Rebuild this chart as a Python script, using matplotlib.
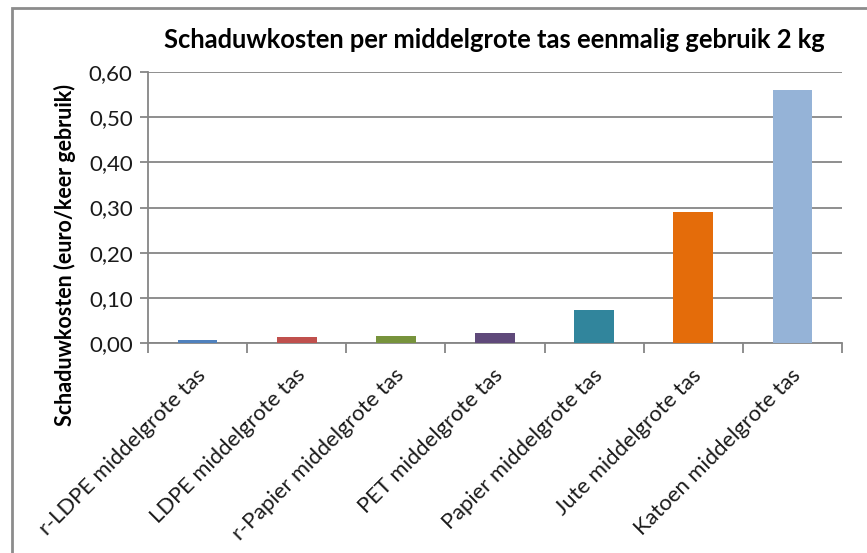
import matplotlib.pyplot as plt
import matplotlib.patches as patches
from matplotlib.ticker import FuncFormatter
from matplotlib.transforms import offset_copy

# Datos
categorias = [
    "r-LDPE middelgrote tas",
    "LDPE middelgrote tas",
    "r-Papier middelgrote tas",
    "PET middelgrote tas",
    "Papier middelgrote tas",
    "Jute middelgrote tas",
    "Katoen middelgrote tas",
]
kosten = [0.007, 0.014, 0.016, 0.022, 0.072, 0.289, 0.561]
kleuren = ["#4F81BD", "#C0504D", "#77933C", "#5F497A", "#31859C", "#E46C0A", "#95B3D7"]

titel = "Schaduwkosten per middelgrote tas eenmalig gebruik 2 kg"
y_label = "Schaduwkosten (euro/keer gebruik)"

plt.rcParams['font.family'] = ['Lato', 'DejaVu Sans']

W, H = 867, 553
fig = plt.figure(figsize=(W / 100, H / 100), dpi=100)
ax = fig.add_axes([148 / W, 1 - 343 / H, (842 - 148) / W, (343 - 72) / H])

x = list(range(len(categorias)))
ax.bar(x, kosten, width=0.4, color=kleuren, zorder=3)

ax.set_xlim(-0.5, len(categorias) - 0.5)
ax.set_ylim(0, 0.6)
ax.set_yticks([0, 0.1, 0.2, 0.3, 0.4, 0.5, 0.6])
ax.yaxis.set_major_formatter(FuncFormatter(lambda v, p: f"{v:.2f}".replace(".", ",")))
ax.grid(axis='y', color='#868686', linewidth=1.3, zorder=0)
ax.grid(axis='x', visible=False)

# Ejes estilo Excel
for s in ['top', 'right']:
    ax.spines[s].set_visible(False)
for s in ['left', 'bottom']:
    ax.spines[s].set_color('#868686')
    ax.spines[s].set_linewidth(1.3)

# ticks de categoría en los bordes
ax.set_xticks([i - 0.5 for i in range(len(categorias) + 1)])
ax.set_xticklabels([])
ax.tick_params(axis='x', length=7, color='#868686', width=1.3, direction='out')
ax.tick_params(axis='y', length=6, color='#868686', width=1.3, direction='out',
               labelsize=16, pad=5, labelcolor='#1a1a1a')

trans = offset_copy(ax.get_xaxis_transform(), fig=fig, x=0, y=-22, units='dots')
for i, c in enumerate(categorias):
    ax.text(i - 0.02, 0, c, rotation=45, rotation_mode='anchor', ha='right', va='top',
            fontsize=15.8, color='#1a1a1a', transform=trans, clip_on=False)

fig.text(494 / W, 1 - 40 / H, titel, ha='center', va='center',
         fontsize=18.4, fontweight='bold', color='black')
fig.text(65 / W, 1 - 255 / H, y_label, rotation=90, ha='center', va='center',
         fontsize=15.5, fontweight='bold', color='black')

# marco del gráfico
marco = patches.Rectangle((12 / W, -0.1), 1.2, 1 - 8 / H + 0.1, transform=fig.transFigure,
                          fill=False, edgecolor='#8c8c8c', linewidth=2)
fig.patches.append(marco)

fig.savefig("out.png", dpi=100)
